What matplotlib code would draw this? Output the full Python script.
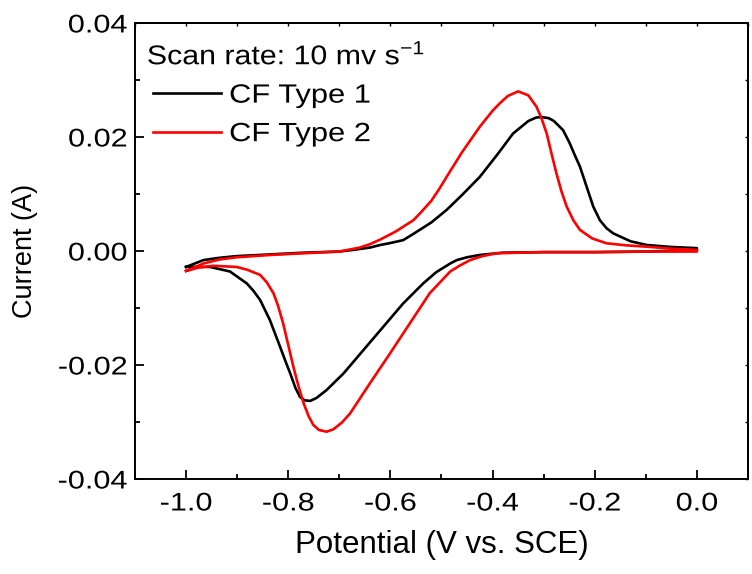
import numpy as np
import matplotlib
matplotlib.use("Agg")
import matplotlib.pyplot as plt
from matplotlib.ticker import MultipleLocator, FormatStrFormatter
from matplotlib.patheffects import AbstractPathEffect
from matplotlib.transforms import Affine2D

plt.rcParams['font.family'] = ['Liberation Sans', 'DejaVu Sans']
plt.rcParams['mathtext.fontset'] = 'custom'
plt.rcParams['mathtext.rm'] = 'Liberation Sans'
plt.rcParams['mathtext.it'] = 'Liberation Sans:italic'
plt.rcParams['axes.unicode_minus'] = False

# CF Type 1 -- anodic sweep (-1.0 -> 0.0) then cathodic sweep back
t1_fwd_v = [-1.0, -0.966, -0.935, -0.901, -0.835, -0.770, -0.700, -0.672, -0.640, -0.620,
            -0.600, -0.575, -0.555, -0.520, -0.490, -0.460, -0.425, -0.390, -0.360, -0.330,
            -0.315, -0.304, -0.290, -0.280, -0.262, -0.249, -0.240, -0.229, -0.216, -0.203,
            -0.190, -0.177, -0.164, -0.130, -0.098, -0.050, 0.0]
t1_fwd_i = [-0.0028, -0.0016, -0.0012, -0.0009, -0.0006, -0.0003, -0.0001, 0.0002, 0.0006, 0.00105,
            0.0014, 0.0019, 0.0030, 0.0050, 0.0072, 0.0098, 0.0130, 0.0170, 0.0206, 0.0228,
            0.0234, 0.0235, 0.0233, 0.0228, 0.0212, 0.0189, 0.0170, 0.0148, 0.0113, 0.0078,
            0.0054, 0.0040, 0.0031, 0.0017, 0.00105, 0.0007, 0.0005]
t1_rev_v = [0.0, -0.100, -0.200, -0.300, -0.380, -0.425, -0.450, -0.470, -0.483, -0.510,
            -0.536, -0.575, -0.614, -0.653, -0.692, -0.725, -0.745, -0.757, -0.768, -0.777,
            -0.786, -0.796, -0.806, -0.816, -0.836, -0.855, -0.868, -0.881, -0.914, -0.953, -1.0]
t1_rev_i = [0.0001, -0.0001, -0.0002, -0.0002, -0.0003, -0.0007, -0.0011, -0.0016, -0.0022, -0.0037,
            -0.0057, -0.0092, -0.0133, -0.0174, -0.0215, -0.0244, -0.0258, -0.0263, -0.0262, -0.0256,
            -0.0240, -0.0215, -0.0192, -0.0168, -0.0121, -0.0086, -0.0070, -0.0057, -0.0036, -0.0028, -0.0028]

# CF Type 2
t2_fwd_v = [-1.0, -0.966, -0.935, -0.901, -0.835, -0.770, -0.700, -0.660, -0.640, -0.620,
            -0.590, -0.555, -0.540, -0.520, -0.505, -0.490, -0.460, -0.425, -0.400, -0.386,
            -0.370, -0.350, -0.330, -0.314, -0.304, -0.294, -0.285, -0.275, -0.265, -0.255,
            -0.242, -0.229, -0.205, -0.177, -0.140, -0.098, -0.050, 0.0]
t2_fwd_i = [-0.0035, -0.0022, -0.0015, -0.0011, -0.0007, -0.0004, -0.0001, 0.0006, 0.0012, 0.0020,
            0.0034, 0.0054, 0.0068, 0.0088, 0.0108, 0.0130, 0.0173, 0.0218, 0.0246, 0.0259,
            0.0272, 0.0280, 0.0273, 0.0253, 0.0232, 0.0206, 0.0172, 0.0136, 0.0104, 0.0078,
            0.0054, 0.0037, 0.0022, 0.00135, 0.0010, 0.00075, 0.0004, 0.0002]
t2_rev_v = [0.0, -0.100, -0.200, -0.300, -0.350, -0.392, -0.420, -0.444, -0.465, -0.483,
            -0.523, -0.562, -0.601, -0.640, -0.679, -0.695, -0.702, -0.712, -0.725, -0.740,
            -0.751, -0.760, -0.770, -0.780, -0.790, -0.800, -0.810, -0.820, -0.829, -0.842,
            -0.855, -0.880, -0.901, -0.947, -0.975, -1.0]
t2_rev_i = [-0.0001, -0.0001, -0.0002, -0.0002, -0.0003, -0.0004, -0.0009, -0.0016, -0.0026, -0.0036,
            -0.0074, -0.0127, -0.0180, -0.0232, -0.0285, -0.0301, -0.0306, -0.0313, -0.0317, -0.0314,
            -0.0305, -0.0290, -0.0267, -0.0237, -0.0203, -0.0165, -0.0127, -0.0096, -0.0074, -0.0055,
            -0.0042, -0.0033, -0.0028, -0.0026, -0.0029, -0.0035]

labels = ['CF Type 1', 'CF Type 2']
colors = ['black', 'red']
scan_note = 'Scan rate: 10 mv s$^{-1}$'


class HStretch(AbstractPathEffect):
    """widen text horizontally (the source figure has wide-set labels)"""
    def __init__(self, sx, anchor='center'):
        super().__init__()
        self.sx = sx
        self.anchor = anchor

    def draw_path(self, renderer, gc, tpath, affine, rgbFace=None):
        ext = tpath.get_extents(affine)
        cx = {'left': ext.x0, 'center': 0.5 * (ext.x0 + ext.x1), 'right': ext.x1}[self.anchor]
        tr = affine + Affine2D().translate(-cx, 0).scale(self.sx, 1).translate(cx, 0)
        renderer.draw_path(gc, tpath, tr, rgbFace)


fig = plt.figure(figsize=(7.52, 5.74), dpi=100)
ax = fig.add_axes([0.1795, 0.1655, 0.8152, 0.7945])

curves = [(t1_fwd_v + t1_rev_v, t1_fwd_i + t1_rev_i),
          (t2_fwd_v + t2_rev_v, t2_fwd_i + t2_rev_i)]
for (v, i), lab, c in zip(curves, labels, colors):
    ax.plot(v, i, color=c, lw=1.9, label=lab, solid_joinstyle='round')

ax.set_xlim(-1.1, 0.1)
ax.set_ylim(-0.04, 0.04)
ax.xaxis.set_major_locator(MultipleLocator(0.2))
ax.xaxis.set_minor_locator(MultipleLocator(0.1))
ax.yaxis.set_major_locator(MultipleLocator(0.02))
ax.yaxis.set_minor_locator(MultipleLocator(0.01))
ax.xaxis.set_major_formatter(FormatStrFormatter('%.1f'))
ax.yaxis.set_major_formatter(FormatStrFormatter('%.2f'))

ax.tick_params(which='both', direction='in', labelsize=18.4, width=1.3)
ax.tick_params(which='major', length=6.5)
ax.tick_params(which='minor', length=3.6)
ax.tick_params(axis='x', pad=9)
ax.tick_params(axis='y', pad=5.5)
for s in ax.spines.values():
    s.set_linewidth(1.4)

# tiny ticks on the top and right frame
top = ax.secondary_xaxis('top')
top.xaxis.set_major_locator(MultipleLocator(0.1))
top.tick_params(direction='in', length=2, width=1, labeltop=False)
right = ax.secondary_yaxis('right')
right.yaxis.set_major_locator(MultipleLocator(0.01))
right.tick_params(direction='in', length=2, width=1, labelright=False)
for a in (top, right):
    for s in a.spines.values():
        s.set_linewidth(1.4)

ax.set_xlabel('Potential (V vs. SCE)', fontsize=22.5)
ax.set_ylabel('Current (A)', fontsize=19.5)
ax.xaxis.set_label_coords(0.5, -0.112)
ax.yaxis.set_label_coords(-0.158, 0.5)

note = ax.text(0.0196, 0.909, scan_note, transform=ax.transAxes, fontsize=19.5,
               ha='left', va='baseline')
note.set_path_effects([HStretch(1.12, 'left')])

leg = ax.legend(loc='upper left', bbox_to_anchor=(0.029, 0.867), frameon=False,
                fontsize=19, handlelength=2.6, handletextpad=0.3,
                labelspacing=0.55, borderpad=0, borderaxespad=0)
for t in leg.get_texts():
    t.set_path_effects([HStretch(1.17, 'left')])

fig.canvas.draw()
for t in ax.xaxis.get_major_ticks():
    t.label1.set_path_effects([HStretch(1.2, 'center')])
for t in ax.yaxis.get_major_ticks():
    t.label1.set_path_effects([HStretch(1.2, 'right')])

fig.savefig('out.png', dpi=100)
